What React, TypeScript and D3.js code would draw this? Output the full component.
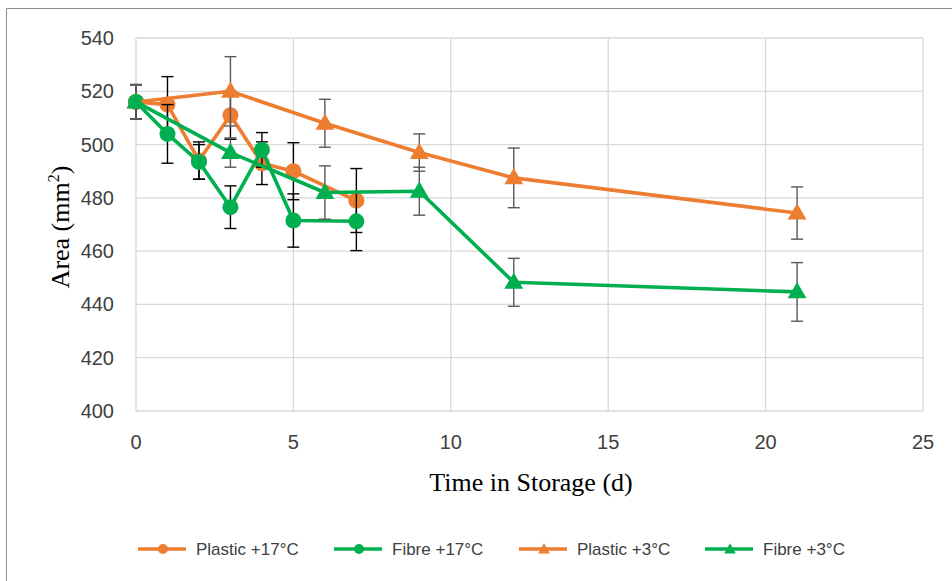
import React from 'react';
import * as d3 from 'd3';

// days sampled for each series
const daysCircle = [0, 1, 2, 3, 4, 5, 7];
const daysTriangle = [0, 3, 6, 9, 12, 21];

const plastic17 = [516, 515, 494, 511, 493, 490, 479];
const plastic17Err = [6.5, 10.5, 7, 9, 8, 10.7, 12];
const fibre17 = [516, 504, 493.5, 476.5, 498, 471.5, 471.2];
const fibre17Err = [6.5, 11, 6.5, 8, 6.5, 10, 11];
const plastic3 = [516, 520, 508, 497, 487.5, 474.3];
const plastic3Err = [6.5, 13, 9, 7, 11.2, 9.8];
const fibre3 = [516, 497, 482, 482.5, 448.3, 444.7];
const fibre3Err = [6.5, 5.5, 10, 9, 9, 11];

const xTicks = [0, 5, 10, 15, 20, 25];
const yTicks = [400, 420, 440, 460, 480, 500, 520, 540];

const ORANGE = '#ED7D31';
const GREEN = '#00B050';

interface Series {
  name: string;
  days: number[];
  values: number[];
  errors: number[];
  color: string;
  marker: 'circle' | 'triangle';
  errColor: string;
}

const series: Series[] = [
  { name: 'Plastic +17°C', days: daysCircle, values: plastic17, errors: plastic17Err, color: ORANGE, marker: 'circle', errColor: '#000' },
  { name: 'Fibre +17°C', days: daysCircle, values: fibre17, errors: fibre17Err, color: GREEN, marker: 'circle', errColor: '#000' },
  { name: 'Plastic +3°C', days: daysTriangle, values: plastic3, errors: plastic3Err, color: ORANGE, marker: 'triangle', errColor: '#595959' },
  { name: 'Fibre +3°C', days: daysTriangle, values: fibre3, errors: fibre3Err, color: GREEN, marker: 'triangle', errColor: '#595959' },
];

const legendX = [138, 334, 519, 705];

const Marker: React.FC<{ kind: 'circle' | 'triangle'; x: number; y: number; size: number; color: string }> = ({ kind, x, y, size, color }) => {
  if (kind === 'circle') return <circle cx={x} cy={y} r={size} fill={color} />;
  const sym = d3.symbol(d3.symbolTriangle, size * size * 2.4)();
  return <path d={sym || ''} transform={`translate(${x},${y + 1})`} fill={color} />;
};

export default function App() {
  const x = d3.scaleLinear().domain([0, 25]).range([136, 923]);
  const y = d3.scaleLinear().domain([400, 540]).range([411, 38]);
  const line = d3.line<[number, number]>().x(d => x(d[0])).y(d => y(d[1]));
  const labelFont = '"Liberation Sans", Arial, sans-serif';
  const titleFont = '"Liberation Serif", "Times New Roman", serif';

  return (
    <svg width={952} height={581} style={{ position: 'absolute', left: 0, top: 0, background: '#fff' }}>
      <rect width={952} height={581} fill="#fff" />
      <line x1={6.5} x2={952} y1={8.5} y2={8.5} stroke="#8c8c8c" />
      <line x1={6.5} x2={6.5} y1={8.5} y2={581} stroke="#8c8c8c" />

      {/* grid */}
      {yTicks.map(t => (
        <line key={'gy' + t} x1={x(0)} x2={x(25)} y1={y(t)} y2={y(t)} stroke="#d9d9d9" strokeWidth={1.3} />
      ))}
      {xTicks.map(t => (
        <line key={'gx' + t} x1={x(t)} x2={x(t)} y1={y(540)} y2={y(400)} stroke="#d9d9d9" strokeWidth={1.3} />
      ))}

      {/* tick labels */}
      {yTicks.map(t => (
        <text key={'ly' + t} x={114} y={y(t)} dy="0.35em" textAnchor="end" fontSize={20} fill="#404040" fontFamily={labelFont}>{t}</text>
      ))}
      {xTicks.map(t => (
        <text key={'lx' + t} x={x(t)} y={442} dy="0.35em" textAnchor="middle" fontSize={20} fill="#404040" fontFamily={labelFont}>{t}</text>
      ))}

      {/* axis titles */}
      <text x={531} y={482} dy="0.35em" textAnchor="middle" fontSize={26} fontFamily={titleFont} fill="#000">Time in Storage (d)</text>
      <text transform={`translate(60,227) rotate(-90)`} dy="0.35em" textAnchor="middle" fontSize={26} fontFamily={titleFont} fill="#000">
        Area (mm<tspan dy="-10" fontSize={16}>2</tspan><tspan dy="10">)</tspan>
      </text>

      {/* series */}
      {series.map(s => {
        const pts = s.days.map((d, i) => [d, s.values[i]] as [number, number]);
        return (
          <g key={s.name}>
            {pts.map((p, i) => {
              const cx = x(p[0]);
              const top = y(p[1] + s.errors[i]);
              const bot = y(p[1] - s.errors[i]);
              return (
                <g key={i} stroke={s.errColor} strokeWidth={1.4}>
                  <line x1={cx} x2={cx} y1={top} y2={bot} />
                  <line x1={cx - 6} x2={cx + 6} y1={top} y2={top} />
                  <line x1={cx - 6} x2={cx + 6} y1={bot} y2={bot} />
                </g>
              );
            })}
            <path d={line(pts) || ''} fill="none" stroke={s.color} strokeWidth={3.6} strokeLinejoin="round" />
            {pts.map((p, i) => (
              <Marker key={i} kind={s.marker} x={x(p[0])} y={y(p[1])} size={8} color={s.color} />
            ))}
          </g>
        );
      })}

      {/* legend */}
      {series.map((s, i) => (
        <g key={'lg' + i}>
          <line x1={legendX[i]} x2={legendX[i] + 48} y1={549} y2={549} stroke={s.color} strokeWidth={3.6} />
          <Marker kind={s.marker} x={legendX[i] + 25} y={549} size={5} color={s.color} />
          <text x={legendX[i] + 58} y={549} dy="0.35em" fontSize={17} fill="#404040" fontFamily={labelFont}>{s.name}</text>
        </g>
      ))}
    </svg>
  );
}
